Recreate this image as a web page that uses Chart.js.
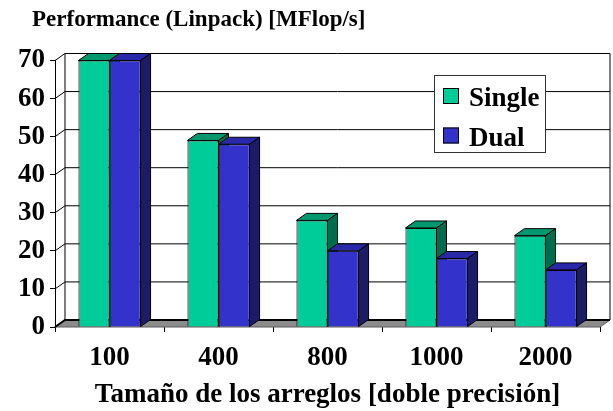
<!DOCTYPE html>
<html>
<head>
<meta charset="utf-8">
<script src="https://cdn.jsdelivr.net/npm/chart.js@4.4.1/dist/chart.umd.min.js"></script>
<style>
  html, body { margin: 0; padding: 0; background: #ffffff; }
  #wrap { width: 613px; height: 411px; }
</style>
</head>
<body>
<div id="wrap"><canvas id="c" width="613" height="411"></canvas></div>
<script>
// Linpack results per array size
const categories = ['100', '400', '800', '1000', '2000'];
const singleValues = [70, 49, 28, 26, 24];
const dualValues = [70, 48, 20, 18, 15];
const yTicks = [0, 10, 20, 30, 40, 50, 60, 70];
const seriesNames = ['Single', 'Dual'];
const chartTitle = 'Performance (Linpack) [MFlop/s]';
const xAxisTitle = 'Tamaño de los arreglos [doble precisión]';

const FONT = '"Liberation Serif", "Times New Roman", serif';
const DX = 10, DY = -7;   // depth offset of the 3D box
const faces = [
  { front: '#00CC99', top: '#00996F', side: '#006B4D' },
  { front: '#3333CC', top: '#2828A8', side: '#1C1C66' }
];

function drawBarBox(ctx, bar, f) {
  const { x, y, base, width } = bar.getProps(['x', 'y', 'base', 'width'], true);
  const l = x - width / 2, r = x + width / 2;
  bar.draw(ctx);
  ctx.save();
  ctx.strokeStyle = '#000';
  ctx.lineWidth = 1;
  ctx.fillStyle = f.top;
  ctx.beginPath();
  ctx.moveTo(l, y);
  ctx.lineTo(r, y);
  ctx.lineTo(r + DX, y + DY);
  ctx.lineTo(l + DX, y + DY);
  ctx.closePath();
  ctx.fill();
  ctx.stroke();
  ctx.fillStyle = f.side;
  ctx.beginPath();
  ctx.moveTo(r, y);
  ctx.lineTo(r + DX, y + DY);
  ctx.lineTo(r + DX, base + DY);
  ctx.lineTo(r, base);
  ctx.closePath();
  ctx.fill();
  ctx.stroke();
  ctx.restore();
}

const box3d = {
  id: 'box3d',
  beforeDatasetsDraw(chart) {
    const { ctx, chartArea: a, scales: { y } } = chart;
    const yb = y.getPixelForValue(0);
    const yt = y.getPixelForValue(yTicks[yTicks.length - 1]);
    ctx.save();
    // floor
    ctx.fillStyle = '#8c8c8c';
    ctx.beginPath();
    ctx.moveTo(a.left, yb);
    ctx.lineTo(a.right, yb);
    ctx.lineTo(a.right + DX, yb + DY);
    ctx.lineTo(a.left + DX, yb + DY);
    ctx.closePath();
    ctx.fill();
    ctx.strokeStyle = '#5a5a5a';
    ctx.lineWidth = 1;
    ctx.stroke();
    // gridlines on side and back walls
    ctx.strokeStyle = '#000';
    yTicks.forEach(v => {
      const p = y.getPixelForValue(v);
      ctx.lineWidth = v === 0 ? 2 : 1;
      ctx.beginPath();
      ctx.moveTo(a.left, p);
      ctx.lineTo(a.left + DX, p + DY);
      ctx.lineTo(a.right + DX, p + DY);
      ctx.stroke();
    });
    ctx.lineWidth = 1;
    ctx.beginPath();
    ctx.moveTo(a.left + DX, yt + DY);
    ctx.lineTo(a.left + DX, yb + DY);
    ctx.moveTo(a.right + DX, yt + DY);
    ctx.lineTo(a.right + DX, yb + DY);
    ctx.stroke();
    ctx.restore();
  },
  // boxes are painted below, category by category, front to back
  beforeDatasetDraw() { return false; },
  afterDatasetsDraw(chart) {
    const ctx = chart.ctx;
    const metas = chart.data.datasets.map((d, i) => chart.getDatasetMeta(i));
    categories.forEach((c, j) => {
      metas.forEach((m, i) => drawBarBox(ctx, m.data[j], faces[i]));
    });
  },
  afterDraw(chart) {
    const ctx = chart.ctx;
    ctx.save();
    // title
    ctx.fillStyle = '#000';
    ctx.textBaseline = 'alphabetic';
    ctx.textAlign = 'left';
    ctx.font = 'bold 23px ' + FONT;
    ctx.fillText(chartTitle, 32, 26);
    // legend box
    const lx = 434, ly = 75, lw = 111, lh = 77;
    ctx.fillStyle = '#fff';
    ctx.fillRect(lx, ly, lw, lh);
    ctx.strokeStyle = '#333';
    ctx.lineWidth = 1;
    ctx.strokeRect(lx + 0.5, ly + 0.5, lw, lh);
    ctx.font = 'bold 27px ' + FONT;
    chart.data.datasets.forEach((ds, i) => {
      const my = 88 + i * 39.5;
      ctx.fillStyle = ds.backgroundColor;
      ctx.fillRect(443, my, 16, 16);
      ctx.strokeStyle = '#000';
      ctx.strokeRect(443.5, my + 0.5, 15, 15);
      ctx.fillStyle = '#000';
      ctx.fillText(ds.label, 469, my + 18);
    });
    ctx.restore();
  }
};

const tickFont = { family: FONT, size: 27, weight: 'bold' };

new Chart(document.getElementById('c'), {
  type: 'bar',
  data: {
    labels: categories,
    datasets: [
      { label: seriesNames[0], data: singleValues, backgroundColor: faces[0].front,
        borderColor: '#000', borderWidth: 1,
        categoryPercentage: 0.57, barPercentage: 1.0 },
      { label: seriesNames[1], data: dualValues, backgroundColor: faces[1].front,
        borderColor: '#000', borderWidth: 1,
        categoryPercentage: 0.57, barPercentage: 1.0 }
    ]
  },
  options: {
    responsive: false,
    animation: false,
    layout: { padding: { top: 60.5, right: 13, left: 0, bottom: 0 } },
    plugins: { legend: { display: false }, title: { display: false }, tooltip: { enabled: false } },
    scales: {
      x: {
        grid: { drawOnChartArea: false, drawTicks: true, tickLength: 5, color: '#000', offset: true },
        border: { display: false },
        ticks: { color: '#000', padding: 10, font: tickFont },
        title: { display: true, text: xAxisTitle, color: '#000', font: tickFont, padding: { top: 0, bottom: 0 } },
        afterFit(s) { s.height = 84; }
      },
      y: {
        min: 0, max: 70,
        afterBuildTicks(s) { s.ticks = yTicks.map(v => ({ value: v })); },
        grid: { drawOnChartArea: false, drawTicks: true, tickLength: 5, color: '#000' },
        border: { display: true, color: '#000', width: 1 },
        ticks: { color: '#000', padding: 5, font: tickFont },
        afterFit(s) { s.width = 55; }
      }
    }
  },
  plugins: [box3d]
});
</script>
</body>
</html>
